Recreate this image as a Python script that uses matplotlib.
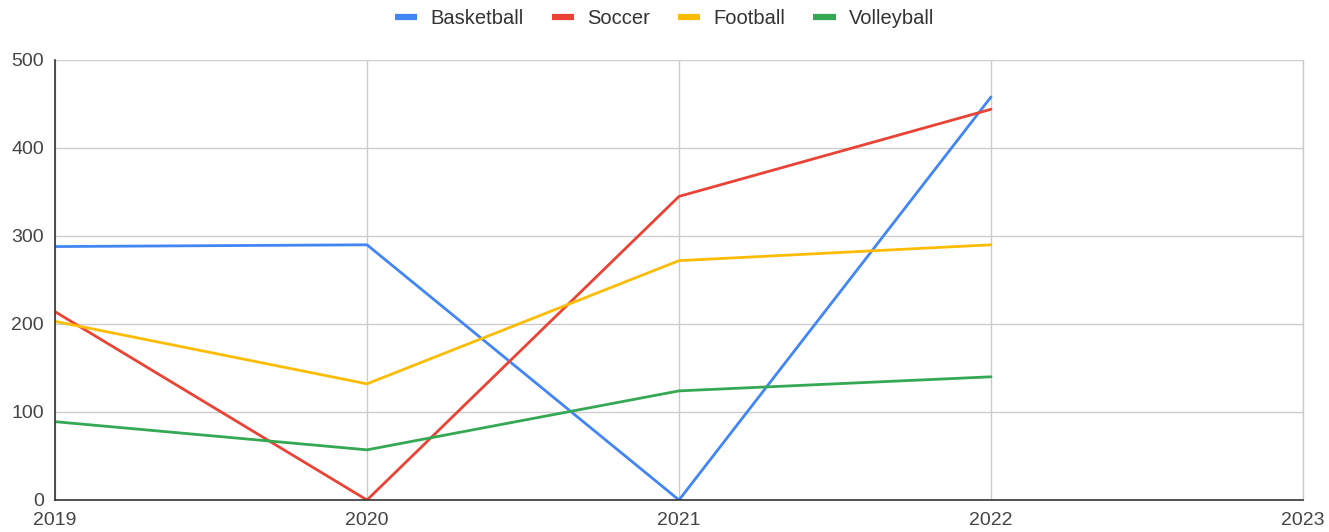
import matplotlib
matplotlib.use("Agg")
import matplotlib.pyplot as plt

plt.rcParams['font.family'] = ['Liberation Sans', 'DejaVu Sans']

years = [2019, 2020, 2021, 2022]
basketball = [288, 290, 0, 458]
soccer = [214, 0, 345, 444]
football = [203, 132, 272, 290]
volleyball = [89, 57, 124, 140]

series = [
    ("Basketball", basketball, "#4285F4"),
    ("Soccer", soccer, "#EA4335"),
    ("Football", football, "#FBBC04"),
    ("Volleyball", volleyball, "#34A853"),
]

fig = plt.figure(figsize=(13.29, 5.32), dpi=100)
ax = fig.add_axes([55 / 1329, 32 / 532, 1248 / 1329, 440 / 532])

for name, vals, col in series:
    ax.plot(years, vals, color=col, lw=2.0, label=name, solid_capstyle='round', zorder=3)

ax.set_xlim(2019, 2023)
ax.set_ylim(0, 500)
ax.set_xticks([2019, 2020, 2021, 2022, 2023])
ax.set_yticks([0, 100, 200, 300, 400, 500])
ax.grid(True, color="#cccccc", lw=1.0, zorder=0)
ax.tick_params(length=0, labelsize=14, colors="#444444")
ax.tick_params(axis='x', pad=8.5)
ax.tick_params(axis='y', pad=8)

ax.spines['top'].set_visible(False)
ax.spines['right'].set_color("#cccccc")
ax.spines['right'].set_linewidth(1.0)
ax.spines['left'].set_color("#333333")
ax.spines['bottom'].set_color("#333333")
ax.spines['left'].set_linewidth(1.2)
ax.spines['bottom'].set_linewidth(1.2)
ax.spines['left'].set_zorder(4)
ax.spines['bottom'].set_zorder(4)

leg = fig.legend(loc='upper center', bbox_to_anchor=(0.5, 1.018), ncol=4, frameon=False,
                 fontsize=14.5, handlelength=1.1, handletextpad=0.65, columnspacing=1.4)
for h in leg.get_lines():
    h.set_linewidth(4.5)
    h.set_solid_capstyle('butt')
for t in leg.get_texts():
    t.set_color("#333333")

fig.savefig("out.png", dpi=100)
